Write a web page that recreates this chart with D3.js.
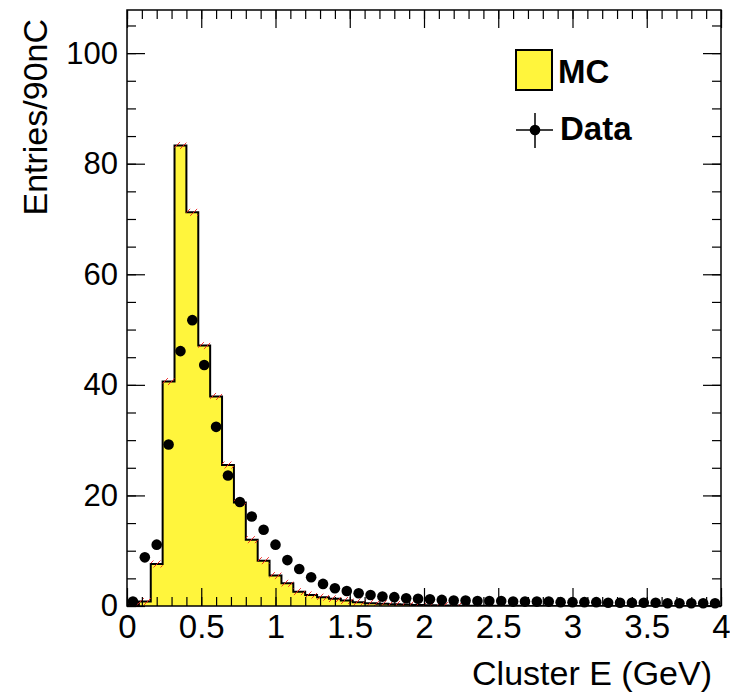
<!DOCTYPE html>
<html><head><meta charset="utf-8">
<script src="https://cdn.jsdelivr.net/npm/d3@7"></script>
<style>
body{margin:0;background:#fff}
text{font-family:"Liberation Sans",Arial,Helvetica,sans-serif;fill:#000}
</style></head>
<body><svg id="c" width="730" height="697"></svg>
<script>
// ---- data ----
const binWidth = 0.08;              // GeV, 50 bins from 0 to 4
const mcValues = [0.2,0.8,7.6,40.6,83.3,71.2,47.1,37.9,25.5,18.7,
                  12.0,8.2,5.5,4.1,2.6,2.0,1.6,1.3,1.0,0.7,
                  0.5,0.4,0.3,0.25,0.2,0.15,0.1,0.08,0.06,0.05,
                  0.04,0.03,0.03,0.02,0.02,0.02,0.01,0.01,0.01,0.01,
                  0,0,0,0,0,0,0,0,0,0];
const dataValues = [0.8,8.8,11.1,29.2,46.1,51.7,43.6,32.4,23.6,18.8,
                    16.2,13.8,11.1,8.3,6.7,5.2,4.0,3.2,2.7,2.3,
                    2.0,1.7,1.6,1.4,1.3,1.2,1.1,1.0,1.0,0.9,
                    0.9,0.9,0.8,0.8,0.8,0.8,0.7,0.7,0.7,0.7,
                    0.6,0.6,0.6,0.6,0.6,0.5,0.5,0.5,0.5,0.5];
const xTicks = [0,0.5,1,1.5,2,2.5,3,3.5,4];
const yTicks = [0,20,40,60,80,100];
const legendLabels = ["MC","Data"];
const xTitle = "Cluster E (GeV)";
const yTitle = "Entries/90nC";

// ---- layout ----
const L=127,R=721,T=10,B=606;
const svg = d3.select("#c");
const x = d3.scaleLinear().domain([0,4]).range([L,R]);
const y = d3.scaleLinear().domain([0,107.8]).range([B,T]);
const FX = 33, FY = 31, FT = 34;

const defs = svg.append("defs");
const pat = defs.append("pattern").attr("id","hatch").attr("patternUnits","userSpaceOnUse")
  .attr("width",7).attr("height",7);
pat.append("path").attr("d","M-1,8 L8,-1").attr("stroke","#f02020").attr("stroke-width",0.9);
defs.append("clipPath").attr("id","clip").append("rect").attr("x",L).attr("y",T).attr("width",R-L).attr("height",B-T);

const g = svg.append("g").attr("clip-path","url(#clip)");

// MC filled histogram
const bins = mcValues.map((v,i)=>({x0:i*binWidth,x1:(i+1)*binWidth,v}));
let d = `M${x(0)},${y(0)}`;
bins.forEach(b=>{ d += `L${x(b.x0)},${y(b.v)}L${x(b.x1)},${y(b.v)}`; });
d += `L${x(4)},${y(0)}Z`;
g.append("path").attr("d",d).attr("fill","#fff53c").attr("stroke","none");
let o = `M${x(0)},${y(bins[0].v)}`;
bins.forEach((b,i)=>{ o += `L${x(b.x0)},${y(b.v)}L${x(b.x1)},${y(b.v)}`; });
g.append("path").attr("d",o).attr("fill","none").attr("stroke","#000").attr("stroke-width",2);

// MC error band (hatched)
g.selectAll("rect.err").data(bins.filter(b=>b.v>0.05)).join("rect").attr("class","err")
  .attr("x",b=>x(b.x0)).attr("width",b=>x(b.x1)-x(b.x0))
  .attr("y",b=>y(b.v)-3.5).attr("height",7).attr("fill","url(#hatch)");

// Axes (ticks inward, mirrored)
function styleAxis(fs){ return sel=>{ sel.select(".domain").remove(); sel.selectAll("line").attr("stroke","#000").attr("stroke-width",1.2);
  sel.selectAll("text").style("font-size",fs+"px").attr("fill","#000"); }; }
const xMinor = d3.range(0,4.0001,0.1);
const yMinor = d3.range(0,107.8,5);
svg.append("g").attr("transform",`translate(0,${B})`).call(d3.axisBottom(x).tickValues(xMinor).tickSize(-9).tickFormat("")).call(styleAxis(FX));
svg.append("g").attr("transform",`translate(0,${B})`).call(d3.axisBottom(x).tickValues(xTicks).tickSize(-18).tickPadding(9).tickFormat(d3.format("~g"))).call(styleAxis(FX));
svg.append("g").attr("transform",`translate(0,${T})`).call(d3.axisTop(x).tickValues(xMinor).tickSize(-9).tickFormat("")).call(styleAxis(FX));
svg.append("g").attr("transform",`translate(0,${T})`).call(d3.axisTop(x).tickValues(xTicks).tickSize(-18).tickFormat("")).call(styleAxis(FX));
svg.append("g").attr("transform",`translate(${L},0)`).call(d3.axisLeft(y).tickValues(yMinor).tickSize(-9).tickFormat("")).call(styleAxis(FY));
svg.append("g").attr("transform",`translate(${L},0)`).call(d3.axisLeft(y).tickValues(yTicks).tickSize(-18).tickPadding(9)).call(styleAxis(FY));
svg.append("g").attr("transform",`translate(${R},0)`).call(d3.axisRight(y).tickValues(yMinor).tickSize(-9).tickFormat("")).call(styleAxis(FY));
svg.append("g").attr("transform",`translate(${R},0)`).call(d3.axisRight(y).tickValues(yTicks).tickSize(-18).tickFormat("")).call(styleAxis(FY));

// Data points
const pts = dataValues.map((v,i)=>({c:(i+0.5)*binWidth,v}));
svg.append("g").selectAll("circle").data(pts).join("circle")
  .attr("cx",p=>x(p.c)).attr("cy",p=>y(p.v)).attr("r",5.3).attr("fill","#000");

// Frame
svg.append("rect").attr("x",L).attr("y",T).attr("width",R-L).attr("height",B-T)
  .attr("fill","none").attr("stroke","#000").attr("stroke-width",1.5);

// Titles
svg.append("text").attr("x",712).attr("y",685).attr("text-anchor","end").style("font-size",FT+"px").text(xTitle);
svg.append("text").attr("transform","translate(47,19) rotate(-90)").attr("text-anchor","end").style("font-size",FT+"px").text(yTitle);

// Legend
svg.append("rect").attr("x",516).attr("y",50).attr("width",36).attr("height",40).attr("fill","#fff53c").attr("stroke","#000").attr("stroke-width",2);
svg.append("line").attr("x1",516).attr("x2",553).attr("y1",130).attr("y2",130).attr("stroke","#000").attr("stroke-width",1.5);
svg.append("line").attr("x1",535).attr("x2",535).attr("y1",113).attr("y2",148).attr("stroke","#000").attr("stroke-width",1.5);
svg.append("circle").attr("cx",535).attr("cy",130).attr("r",5.3).attr("fill","#000");
svg.append("text").attr("x",558).attr("y",83).style("font-size","33px").style("font-weight","bold").text(legendLabels[0]);
svg.append("text").attr("x",560).attr("y",140).style("font-size","33px").style("font-weight","bold").text(legendLabels[1]);
</script></body></html>
